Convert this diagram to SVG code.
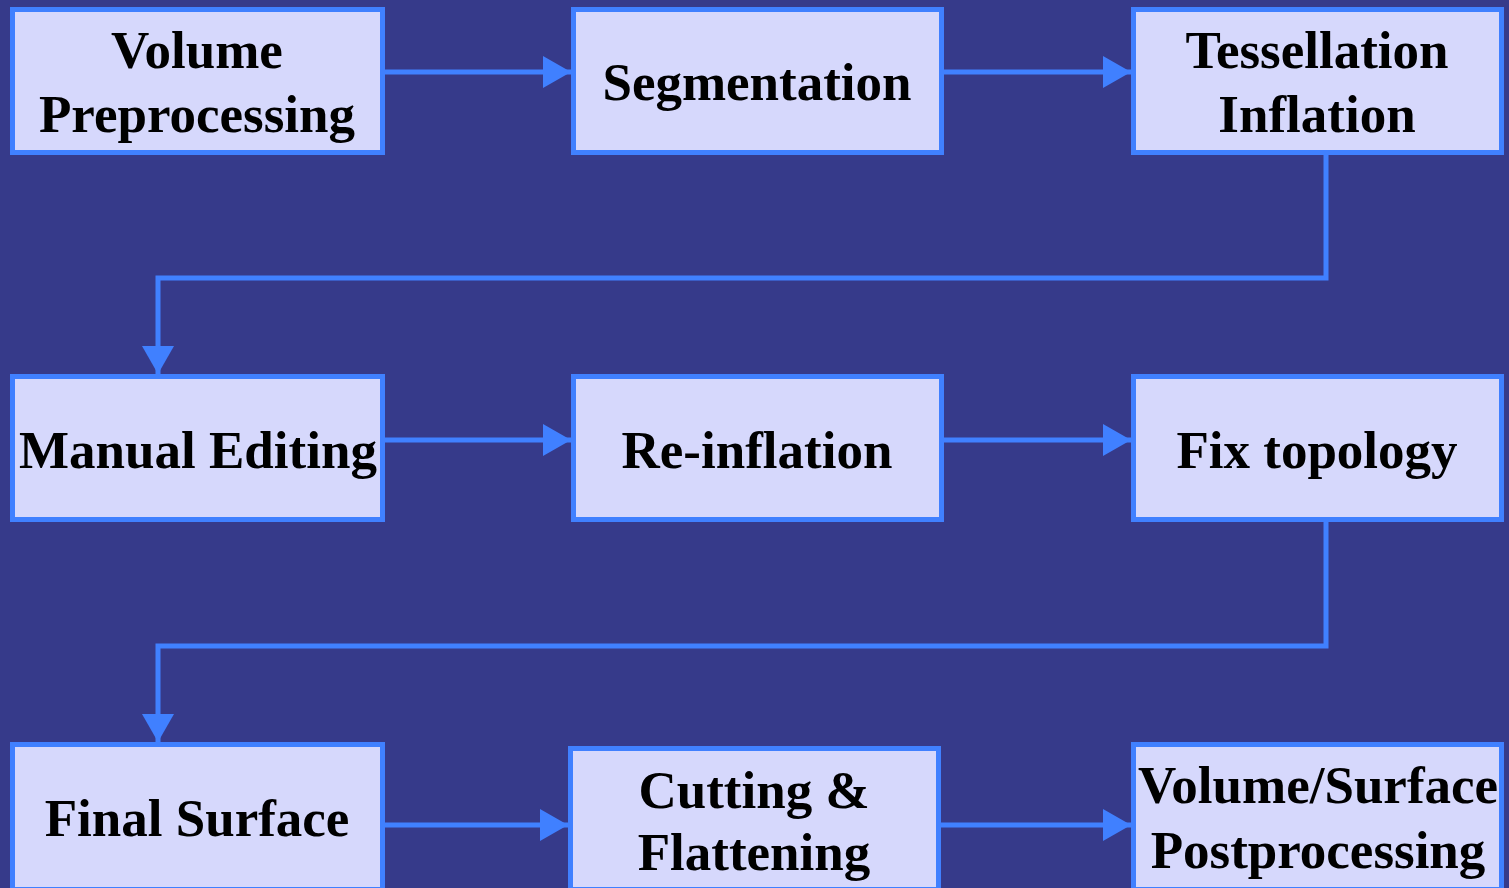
<svg xmlns="http://www.w3.org/2000/svg" width="1509" height="888" viewBox="0 0 1509 888">
<style>
.box{fill:#D6D8FC;stroke:#4080FF;stroke-width:5}
.lbl{font-family:"Liberation Serif","Times New Roman",serif;font-weight:bold;font-size:53px;fill:#000;text-anchor:middle}
.con{fill:none;stroke:#4080FF;stroke-width:5}
</style>
<defs>
<marker id="ah" markerUnits="userSpaceOnUse" markerWidth="30" markerHeight="32" refX="28" refY="16" orient="auto">
<path d="M0,0 L28,16 L0,32 Z" fill="#4080FF"/>
</marker>
</defs>
<rect width="1509" height="888" fill="#363A8A"/>
<g id="connectors">
<path class="con" d="M384,72 H571" marker-end="url(#ah)"/>
<path class="con" d="M943,72 H1131" marker-end="url(#ah)"/>
<path class="con" d="M1326,155 V278 H158 V374" marker-end="url(#ah)"/>
<path class="con" d="M384,440 H571" marker-end="url(#ah)"/>
<path class="con" d="M943,440 H1131" marker-end="url(#ah)"/>
<path class="con" d="M1326,522 V646 H158 V742" marker-end="url(#ah)"/>
<path class="con" d="M384,825 H568" marker-end="url(#ah)"/>
<path class="con" d="M940,825 H1131" marker-end="url(#ah)"/>
</g>
<g id="n1"><rect class="box" x="12.5" y="9.5" width="370" height="143"/><text class="lbl" x="197" y="68">Volume</text><text class="lbl" x="197" y="132">Preprocessing</text></g>
<g id="n2"><rect class="box" x="573.5" y="9.5" width="368" height="143"/><text class="lbl" x="757" y="100">Segmentation</text></g>
<g id="n3"><rect class="box" x="1133.5" y="9.5" width="368" height="143"/><text class="lbl" x="1317" y="68">Tessellation</text><text class="lbl" x="1317" y="132">Inflation</text></g>
<g id="n4"><rect class="box" x="12.5" y="376.5" width="370" height="143"/><text class="lbl" x="198" y="468">Manual Editing</text></g>
<g id="n5"><rect class="box" x="573.5" y="376.5" width="368" height="143"/><text class="lbl" x="757" y="468">Re-inflation</text></g>
<g id="n6"><rect class="box" x="1133.5" y="376.5" width="368" height="143"/><text class="lbl" x="1317" y="468">Fix topology</text></g>
<g id="n7"><rect class="box" x="12.5" y="744.5" width="370" height="145"/><text class="lbl" x="197" y="836">Final Surface</text></g>
<g id="n8"><rect class="box" x="570.5" y="748.5" width="368" height="141"/><text class="lbl" x="754" y="808">Cutting &amp;</text><text class="lbl" x="754" y="870">Flattening</text></g>
<g id="n9"><rect class="box" x="1133.5" y="744.5" width="368" height="145"/><text class="lbl" x="1318" y="803">Volume/Surface</text><text class="lbl" x="1318" y="868">Postprocessing</text></g>
</svg>
